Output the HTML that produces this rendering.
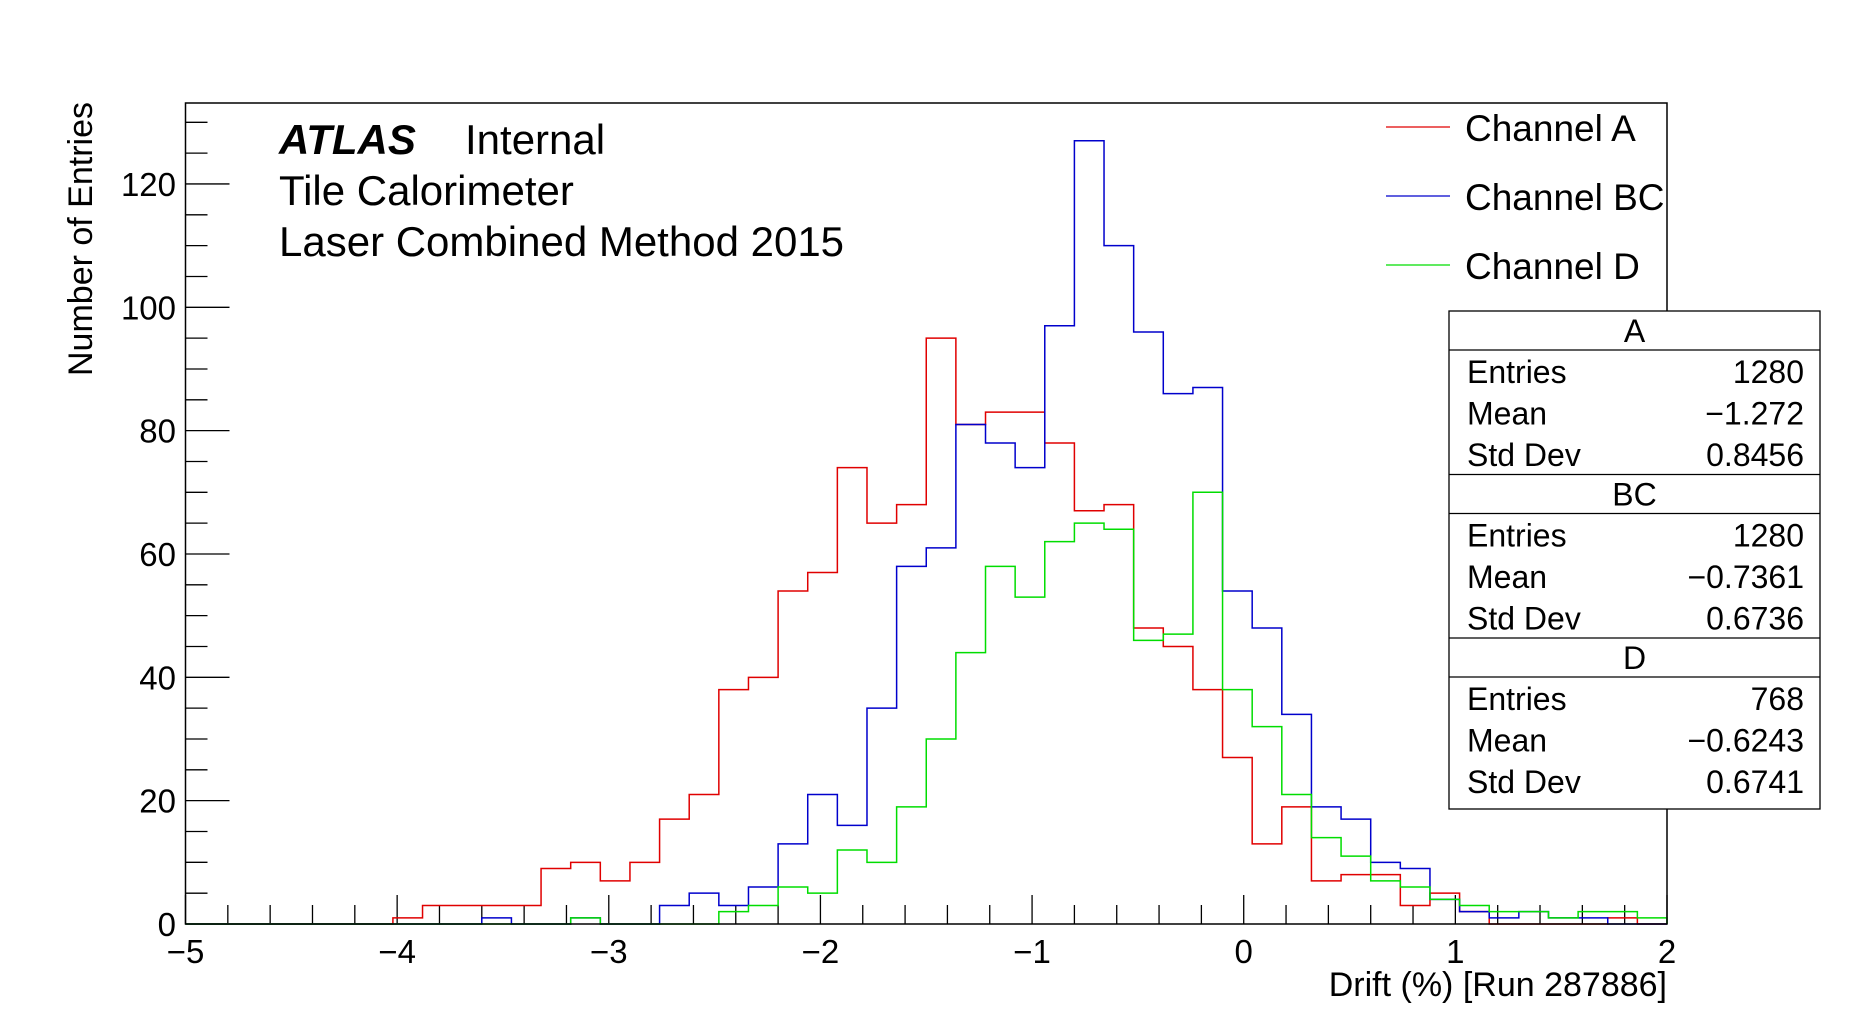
<!DOCTYPE html>
<html><head><meta charset="utf-8"><style>
html,body{margin:0;padding:0;background:#fff;}
svg{display:block;font-family:"Liberation Sans",sans-serif;}
</style></head><body>
<svg id="chart" width="1853" height="1027" viewBox="0 0 1853 1027" xmlns="http://www.w3.org/2000/svg">
<rect width="1853" height="1027" fill="#fff"/>
<g id="axes"></g>
<g id="series"></g>
<rect x="185.5" y="103" width="1481.5" height="821" fill="none" stroke="#000" stroke-width="1.5"/>
<text transform="translate(92,239) rotate(-90)" text-anchor="middle" font-size="34">Number of Entries</text>
<text x="1667" y="996" text-anchor="end" font-size="34">Drift (%) [Run 287886]</text>
<text x="279" y="154" font-size="42" font-weight="bold" font-style="italic">ATLAS</text>
<text x="465" y="154" font-size="42">Internal</text>
<text x="279" y="205" font-size="42">Tile Calorimeter</text>
<text x="279" y="256" font-size="42">Laser Combined Method 2015</text>
<g>
<line x1="1386" y1="127" x2="1450" y2="127" stroke="#e00000" stroke-width="1.3"/>
<text x="1465" y="141" font-size="37">Channel A</text>
<line x1="1386" y1="196" x2="1450" y2="196" stroke="#0000cc" stroke-width="1.3"/>
<text x="1465" y="210" font-size="37">Channel BC</text>
<line x1="1386" y1="265" x2="1450" y2="265" stroke="#00dd00" stroke-width="1.3"/>
<text x="1465" y="279" font-size="37">Channel D</text>
</g>
<g id="stats"></g>
<g id="ticklabels"></g>
</svg>
<script>
const xTicks = [-5,-4,-3,-2,-1,0,1,2];
const xTickLabels = ["\u22125","\u22124","\u22123","\u22122","\u22121","0","1","2"];
const yTicks = [0,20,40,60,80,100,120];
const binStart = -5, binWidth = 0.14;
const seriesA = [0,0,0,0,0,0,0,1,3,3,3,3,9,10,7,10,17,21,38,40,54,57,74,65,68,95,81,83,83,78,67,68,48,45,38,27,13,19,7,8,8,3,5,2,0,0,0,0,1,0];
const seriesBC = [0,0,0,0,0,0,0,0,0,0,1,0,0,1,0,0,3,5,3,6,13,21,16,35,58,61,81,78,74,97,127,110,96,86,87,54,48,34,19,17,10,9,4,2,1,2,1,1,0,0];
const seriesD = [0,0,0,0,0,0,0,0,0,0,0,0,0,1,0,0,0,0,2,3,6,5,12,10,19,30,44,58,53,62,65,64,46,47,70,38,32,21,14,11,7,6,4,3,2,2,1,2,2,1];
const statsRows = [
 ["A",[["Entries","1280"],["Mean","\u22121.272"],["Std Dev","0.8456"]]],
 ["BC",[["Entries","1280"],["Mean","\u22120.7361"],["Std Dev","0.6736"]]],
 ["D",[["Entries","768"],["Mean","\u22120.6243"],["Std Dev","0.6741"]]]
];
const NS="http://www.w3.org/2000/svg";
const X0=185.5, X1=1667, Y0=924, YPX=6.167;
function sx(v){return X0+(v+5)/7*(X1-X0);}
function sy(v){return Y0-v*YPX;}
function mk(tag,attrs,parent){const e=document.createElementNS(NS,tag);for(const k in attrs)e.setAttribute(k,attrs[k]);parent.appendChild(e);return e;}
const axes=document.getElementById('axes'), tl=document.getElementById('ticklabels');
for(let i=0;i<=35;i++){const v=-5+i*0.2;const major=Math.abs(v-Math.round(v))<1e-6;
 const t=mk('line',{x1:sx(v),x2:sx(v),y1:Y0,y2:Y0-(major?29:19),stroke:'#000','stroke-width':1.3},axes);
 
 }
xTicks.forEach((v,i)=>{const t=mk('text',{x:sx(v),y:963,'text-anchor':'middle','font-size':33},tl);t.textContent=xTickLabels[i];
 
 });
for(let v=0;v<=130;v+=5){const major=v%20===0;
 const t=mk('line',{x1:X0,x2:X0+(major?44:22),y1:sy(v),y2:sy(v),stroke:'#000','stroke-width':1.3},axes);
 
 }
yTicks.forEach(v=>{const t=mk('text',{x:176,y:sy(v)+12,'text-anchor':'end','font-size':33},tl);t.textContent=String(v);
 
 });
const sg=document.getElementById('series');
function drawHist(vals,color,name){let d='M'+sx(binStart)+','+sy(0);
 vals.forEach((v,i)=>{const a=binStart+i*binWidth,b=a+binWidth;d+=' L'+sx(a)+','+sy(v)+' L'+sx(b)+','+sy(v);});
 d+=' L'+sx(binStart+vals.length*binWidth)+','+sy(0);
 const p=mk('path',{d:d,fill:'none',stroke:color,'stroke-width':1.5},sg);
 
 }
drawHist(seriesA,'#e00000','histogram-channel-a');
drawHist(seriesBC,'#0000cc','histogram-channel-bc');
drawHist(seriesD,'#00dd00','histogram-channel-d');
const st=document.getElementById('stats');
const BX0=1449,BX1=1820;let y=311;
mk('rect',{x:BX0,y:311,width:BX1-BX0,height:498,fill:'#fff',stroke:'#000','stroke-width':1.3},st);
statsRows.forEach((sec,si)=>{
 if(si>0)mk('line',{x1:BX0,x2:BX1,y1:y,y2:y,stroke:'#000','stroke-width':1.3},st);
 const h=mk('text',{x:(BX0+BX1)/2,y:y+31,'text-anchor':'middle','font-size':32},st);h.textContent=sec[0];
 
 
 y+=39;
 mk('line',{x1:BX0,x2:BX1,y1:y,y2:y,stroke:'#000','stroke-width':1.3},st);
 sec[1].forEach(r=>{
  const a=mk('text',{x:1467,y:y+33,'font-size':32},st);a.textContent=r[0];
  
  
  const b=mk('text',{x:1804,y:y+33,'text-anchor':'end','font-size':32},st);b.textContent=r[1];
  
  
  y+=41.5;});
});
</script>
</body></html>
